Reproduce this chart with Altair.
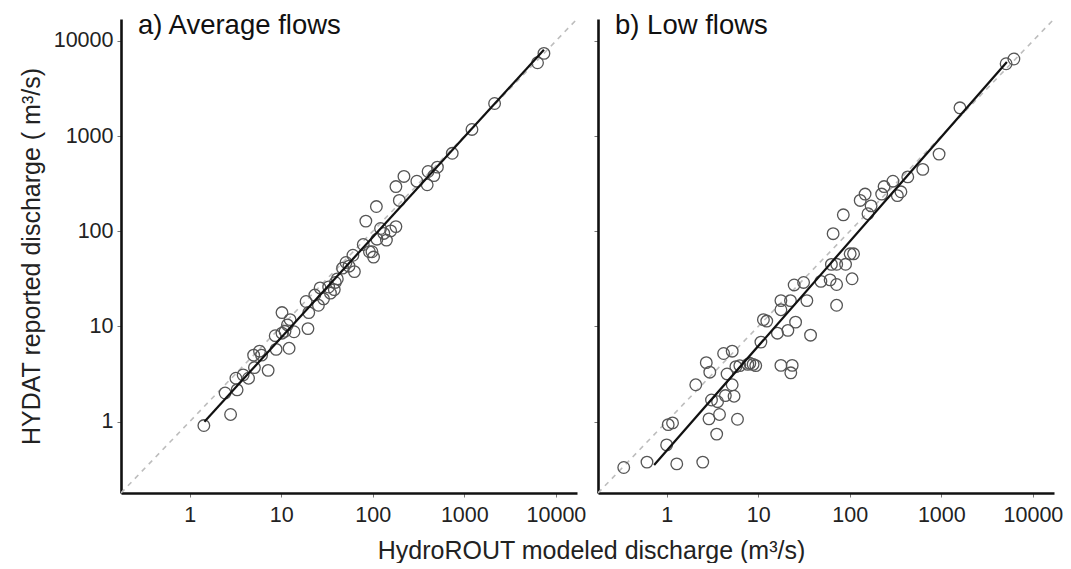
import altair as alt
import pandas as pd

# ---- data ----
a_x = [1.43, 2.8, 2.44, 3.3, 3.2, 3.84, 4.4, 5.1, 7.2, 5.0, 5.8, 6.1, 8.8, 8.6, 10.2,
       12.2, 10.2, 12.5, 11.7, 13.8, 11.0, 19.6, 18.7, 20.0, 23.3, 26.6, 25.5, 29.0, 33.0, 38.0,
       39.0, 41.0, 34.5, 46.8, 55.0, 63.0, 60.7, 51.0, 78.7, 84.0, 92.0, 102.0, 98.0, 109.5, 111.0,
       121.6, 132.0, 141.0, 157.0, 179.0, 179.0, 195.0, 219.0, 303.0, 393.0, 402.0, 465.0, 508.0,
       738.0, 1211.0, 2140.0, 6300.0, 7400.0]
a_y = [0.91, 1.19, 2.0, 2.16, 2.86, 3.1, 2.86, 3.7, 3.46, 5.0, 5.5, 5.0, 5.75, 8.0, 8.5,
       5.9, 14.0, 11.8, 10.4, 8.8, 8.9, 9.5, 18.3, 14.0, 21.4, 25.4, 16.7, 19.5, 26.0, 24.4,
       29.0, 31.6, 22.4, 41.0, 43.0, 37.7, 56.0, 47.0, 72.6, 128.0, 61.0, 53.6, 61.0, 182.0, 82.6,
       107.0, 95.0, 80.8, 101.0, 112.0, 295.0, 211.0, 377.0, 336.0, 308.0, 425.0, 385.0, 472.0,
       660.0, 1175.0, 2200.0, 5900.0, 7400.0]

b_x = [0.34, 0.61, 1.29, 2.48, 1.0, 1.04, 1.16, 3.52, 2.9, 3.78, 5.94, 3.09, 3.6, 4.38, 5.45,
       2.08, 5.2, 2.96, 2.71, 4.57, 5.7, 6.3, 4.19, 5.2, 7.7, 8.8, 9.4, 8.1, 17.7, 23.5,
       22.7, 10.7, 11.4, 12.4, 16.2, 21.1, 25.6, 37.3, 17.7, 17.7, 22.5, 34.0, 24.7, 31.3, 48.4,
       61.0, 71.8, 71.8, 106.0, 63.0, 72.0, 90.0, 101.0, 110.0, 65.8, 85.0, 130.0, 147.0, 158.0,
       171.0, 223.0, 237.0, 296.0, 331.0, 362.0, 430.0, 627.0, 945.0, 1597.0, 5100.0, 6200.0]
b_y = [0.33, 0.376, 0.36, 0.376, 0.57, 0.93, 0.97, 0.74, 1.07, 1.19, 1.06, 1.69, 1.62, 1.88, 1.85,
       2.44, 2.44, 3.31, 4.17, 3.17, 3.78, 3.88, 5.2, 5.5, 4.0, 4.0, 3.88, 4.1, 3.9, 3.9,
       3.26, 6.85, 11.8, 11.4, 8.5, 9.1, 11.1, 8.1, 15.0, 18.7, 18.7, 18.7, 27.3, 29.0, 29.8,
       30.9, 27.6, 16.7, 31.7, 44.9, 45.0, 45.0, 58.0, 58.0, 94.4, 149.0, 211.0, 246.0, 153.0,
       185.0, 246.0, 295.0, 336.0, 237.0, 260.0, 373.0, 447.0, 647.0, 1983.0, 5760.0, 6460.0]

# fitted line end points
fit_a_x = [1.45, 7400.0]
fit_a_y = [1.0, 8100.0]
fit_b_x = [0.73, 5200.0]
fit_b_y = [0.35, 6000.0]

# axis limits and 1:1 reference line
ax_dom = [0.178, 17000.0]
one_to_one = [0.178, 17000.0]

tick_values = [1, 10, 100, 1000, 10000]
panel_titles = ["a) Average flows", "b) Low flows"]
x_title = "HydroROUT modeled discharge (m³/s)"
y_title = "HYDAT reported discharge ( m³/s)"

W, H = 456, 474
FONT = "Liberation Sans"


def panel(px, py, fx, fy, label, first):
    xs = alt.Scale(type="log", domain=ax_dom, nice=False)
    ys = alt.Scale(type="log", domain=ax_dom, nice=False)
    if first:
        xax = alt.Axis(values=tick_values, labelExpr="datum.value",
                       title=x_title, titleX=470, titleY=57, titleBaseline="middle",
                       titleAnchor="middle")
        yax = alt.Axis(values=tick_values, labelExpr="datum.value",
                       title=y_title, titleX=-90, titleY=H / 2, titleBaseline="middle",
                       titleAngle=-90)
    else:
        xax = alt.Axis(values=tick_values, labelExpr="datum.value", title="")
        yax = alt.Axis(values=tick_values, labels=False, title="")

    diag = pd.DataFrame({"x": one_to_one, "y": one_to_one})
    pts = pd.DataFrame({"x": px, "y": py})
    fit = pd.DataFrame({"x": fx, "y": fy})
    lab = pd.DataFrame({"t": [label]})

    l_diag = alt.Chart(diag).mark_line(color="#bdbdbd", strokeDash=[5, 5], strokeWidth=1.6,
                                       clip=True).encode(
        x=alt.X("x:Q", scale=xs, axis=xax), y=alt.Y("y:Q", scale=ys, axis=yax))
    l_pts = alt.Chart(pts).mark_point(shape="circle", filled=False, size=135,
                                      strokeWidth=1.3, color="#555555", opacity=1).encode(
        x="x:Q", y="y:Q")
    l_fit = alt.Chart(fit).mark_line(color="#111111", strokeWidth=2.2).encode(x="x:Q", y="y:Q")
    l_txt = alt.Chart(lab).mark_text(align="left", baseline="middle", fontSize=27.5,
                                     font=FONT, color="#111111").encode(
        x=alt.value(17), y=alt.value(7), text="t:N")
    return alt.layer(l_diag, l_pts, l_fit, l_txt).properties(width=W, height=H)


pa = panel(a_x, a_y, fit_a_x, fit_a_y, panel_titles[0], True)
pb = panel(b_x, b_y, fit_b_x, fit_b_y, panel_titles[1], False)

chart = (
    alt.hconcat(pa, pb, spacing=21, bounds="flush")
    .properties(padding={"left": 10, "top": 4, "right": 0, "bottom": 0})
    .configure_view(stroke=None)
    .configure_axis(
        grid=False,
        domainColor="#111111", domainWidth=2.6,
        tickColor="#777777", tickSize=4, tickWidth=1,
        labelFont=FONT, labelFontSize=21.5, labelColor="#222222", labelPadding=4,
        titleFont=FONT, titleFontSize=25, titleFontWeight="normal", titleColor="#222222",
    )
    .configure_axisX(labelPadding=7)
)

chart.save("out.html", embed_options={"renderer": "svg", "actions": False})
